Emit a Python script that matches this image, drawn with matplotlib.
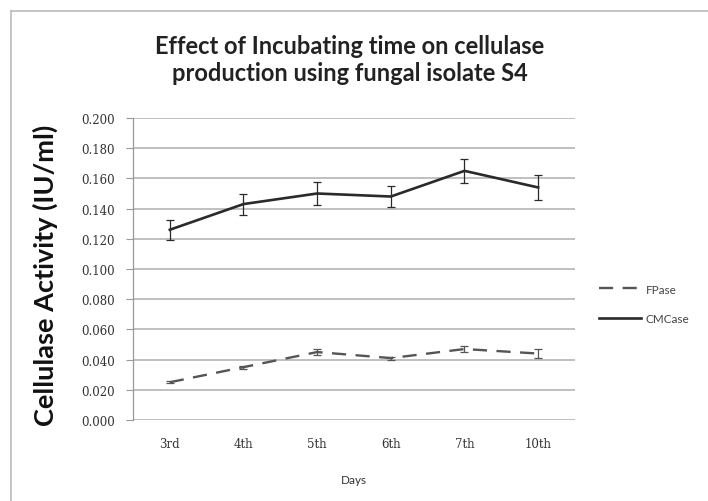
import numpy as np
import matplotlib
matplotlib.use('Agg')
from matplotlib import pyplot as plt
from matplotlib.lines import Line2D

# data
days = ['3rd', '4th', '5th', '6th', '7th', '10th']
cmcase = [0.126, 0.143, 0.150, 0.148, 0.165, 0.154]
cmcase_err = [0.0065, 0.007, 0.0075, 0.0072, 0.008, 0.008]
fpase = [0.025, 0.035, 0.045, 0.041, 0.047, 0.044]
fpase_err = [0.0008, 0.001, 0.0022, 0.001, 0.002, 0.0032]
y_ticks = [0.000, 0.020, 0.040, 0.060, 0.080, 0.100, 0.120, 0.140, 0.160, 0.180, 0.200]

fig = plt.figure(figsize=(7.08, 5.02), dpi=100)
ax = fig.add_axes([133 / 708, 81 / 502, 442 / 708, 302 / 502])

x = np.arange(len(days))
ax.errorbar(x, fpase, yerr=fpase_err, color='#555555', lw=1.7, ls=(0, (6, 4)),
            capsize=3, elinewidth=0.9, capthick=0.9, label='FPase')
ax.errorbar(x, cmcase, yerr=cmcase_err, color='#2a2a2a', lw=1.9,
            capsize=3, elinewidth=0.9, capthick=0.9, label='CMCase')

ax.set_xlim(-0.5, len(days) - 0.5)
ax.set_ylim(0, 0.2)
ax.set_yticks(y_ticks)
ax.set_yticklabels(['%.3f' % v for v in y_ticks], family='DejaVu Serif', fontsize=8.5, color='#333333')
ax.set_xticks(x)
ax.set_xticklabels(days, family='DejaVu Serif', fontsize=8.5, color='#333333')
ax.tick_params(axis='x', length=0, pad=12)
ax.tick_params(axis='y', length=5, width=0.8, color='#999999', pad=8)
ax.grid(axis='y', color='#b5b5b5', lw=1.2)
ax.set_axisbelow(True)
for s in ['top', 'right', 'bottom']:
    ax.spines[s].set_visible(False)
ax.spines['left'].set_color('#999999')
ax.spines['left'].set_linewidth(0.9)

fig.text(350 / 708, 1 - 60 / 502, 'Effect of Incubating time on cellulase\nproduction using fungal isolate S4',
         ha='center', va='center', family='Lato', weight='bold', fontsize=17,
         color='#222222', linespacing=1.25)
fig.text(45 / 708, 1 - 275 / 502, 'Cellulase Activity (IU/ml)', rotation=90,
         ha='center', va='center', family='Lato', weight='bold', fontsize=19.5, color='#111111')
fig.text(354 / 708, 1 - 481 / 502, 'Days', ha='center', va='center',
         family='Lato', fontsize=8.5, color='#333333')

handles = [Line2D([], [], color='#555555', lw=1.7, ls=(0, (6, 4))),
           Line2D([], [], color='#2a2a2a', lw=1.9)]
fig.legend(handles, ['FPase', 'CMCase'], loc='center left',
           bbox_to_anchor=(588 / 708, 1 - 305 / 502), frameon=False,
           prop={'family': 'Lato', 'size': 8.5}, handlelength=3.6, handletextpad=0.4,
           labelspacing=1.6, labelcolor='#444444')

# outer chart border (only left and top visible in the crop)
fig.add_artist(Line2D([11 / 708, 11 / 708], [0, 1 - 12 / 502], transform=fig.transFigure, color='#bbbbbb', lw=1.2))
fig.add_artist(Line2D([11 / 708, 1], [1 - 12 / 502, 1 - 12 / 502], transform=fig.transFigure, color='#bbbbbb', lw=1.2))

fig.savefig('out.png', dpi=100)
